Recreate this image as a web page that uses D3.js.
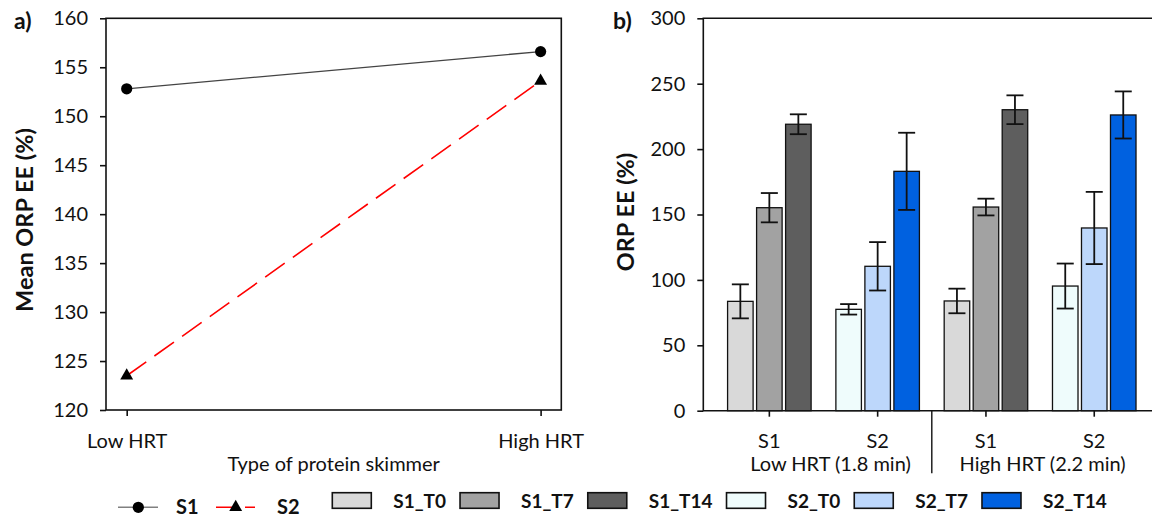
<!DOCTYPE html>
<html>
<head>
  <meta charset="UTF-8">
  <style>
    body { margin: 0; background: #fff; }
    svg text { font-family: Lato, "Open Sans", sans-serif; fill: #111; }
  </style>
</head>
<body>
<div id="chart"></div>
<script src="https://d3js.org/d3.v7.min.js"></script>
<script>

// ---- panel a data
const hrtTypes = ["Low HRT", "High HRT"];
const meanS1 = [152.8, 156.6];
const meanS2 = [123.5, 153.6];
const yTicksA = [120, 125, 130, 135, 140, 145, 150, 155, 160];

// ---- panel b data
const groupIds = ["low-S1", "low-S2", "high-S1", "high-S2"];
const groupLabels = ["S1", "S2", "S1", "S2"];
const hrtLabels = ["Low HRT (1.8 min)", "High HRT (2.2 min)"];
const seriesNames = ["S1_T0", "S1_T7", "S1_T14", "S2_T0", "S2_T7", "S2_T14"];
const seriesColors = ["#d9d9d9", "#a2a2a2", "#5e5e5e", "#effcfc", "#bdd7fb", "#0061e0"];
const lowS1 = [83.6, 155.2, 219.0], lowS1Err = [13.0, 11.2, 7.6];
const lowS2 = [77.5, 110.4, 183.0], lowS2Err = [4.0, 18.5, 29.5];
const highS1 = [83.9, 155.7, 230.1], highS1Err = [9.4, 6.4, 11.0];
const highS2 = [95.3, 139.7, 226.1], highS2Err = [17.2, 27.6, 18.0];
const yTicksB = [0, 50, 100, 150, 200, 250, 300];

const width = 1152, height = 517;
const fs = 20;

const svg = d3.select("#chart")
  .append("svg")
  .attr("width", width)
  .attr("height", height);

//================ panel a =================
const a = { left: 106, right: 561.3, top: 18.3, bottom: 410 };

const xA = d3.scalePoint().domain(hrtTypes).range([a.left, a.right]).padding(0.05);
const yA = d3.scaleLinear().domain([120, 160]).range([a.bottom, a.top]);

const gA = svg.append("g");

gA.append("rect")
  .attr("x", a.left).attr("y", a.top)
  .attr("width", a.right - a.left).attr("height", a.bottom - a.top)
  .attr("fill", "none").attr("stroke", "#111").attr("stroke-width", 1.6);

const axA = gA.append("g")
  .attr("transform", `translate(${a.left},0)`)
  .call(d3.axisLeft(yA).tickValues(yTicksA).tickSize(6).tickPadding(12));
const axAb = gA.append("g")
  .attr("transform", `translate(0,${a.bottom})`)
  .call(d3.axisBottom(xA).tickSize(6).tickPadding(18));
[axA, axAb].forEach(ax => {
  ax.select(".domain").remove();
  ax.selectAll("line").attr("stroke", "#111").attr("stroke-width", 1.6);
  ax.selectAll("text").attr("font-size", fs).attr("fill", "#111")
    .style("font-family", "Lato, 'Open Sans', sans-serif");
});

const lineA = d3.line().x((d, i) => xA(hrtTypes[i])).y(d => yA(d));

gA.append("path").datum(meanS1)
  .attr("d", lineA).attr("fill", "none")
  .attr("stroke", "#444").attr("stroke-width", 1.3);
gA.append("path").datum(meanS2)
  .attr("d", lineA).attr("fill", "none")
  .attr("stroke", "#ff0000").attr("stroke-width", 1.6)
  .attr("stroke-dasharray", "24,10");

gA.selectAll(".s1pt").data(meanS1).enter()
  .append("circle")
  .attr("cx", (d, i) => xA(hrtTypes[i])).attr("cy", d => yA(d))
  .attr("r", 5.6).attr("fill", "#000");
gA.selectAll(".s2pt").data(meanS2).enter()
  .append("path")
  .attr("d", d3.symbol().type(d3.symbolTriangle).size(72))
  .attr("transform", (d, i) => `translate(${xA(hrtTypes[i])},${yA(d)})`)
  .attr("fill", "#000");

gA.append("text").attr("x", 14).attr("y", 29)
  .attr("font-size", 23).attr("font-weight", "bold").text("a)");

gA.append("text")
  .attr("transform", "translate(33,220) rotate(-90)")
  .attr("text-anchor", "middle").attr("font-size", 23.5).attr("font-weight", "bold")
  .text("Mean ORP EE (%)");

gA.append("text")
  .attr("x", (a.left + a.right) / 2).attr("y", 471)
  .attr("text-anchor", "middle").attr("font-size", fs)
  .text("Type of protein skimmer");

// legend a
const legA = gA.append("g").attr("transform", "translate(0,507.3)");
legA.append("line").attr("x1", 118).attr("x2", 158)
  .attr("stroke", "#808080").attr("stroke-width", 1.6);
legA.append("circle").attr("cx", 138.3).attr("r", 5.6).attr("fill", "#000");
legA.append("text").attr("x", 176).attr("y", 6.5)
  .attr("font-size", 20).attr("font-weight", "bold").text("S1");
legA.append("line").attr("x1", 216).attr("x2", 255)
  .attr("stroke", "#ff0000").attr("stroke-width", 1.6)
  .attr("stroke-dasharray", "16,13,10");
legA.append("path")
  .attr("d", d3.symbol().type(d3.symbolTriangle).size(72))
  .attr("transform", "translate(235.7,0)").attr("fill", "#000");
legA.append("text").attr("x", 277).attr("y", 6.5)
  .attr("font-size", 20).attr("font-weight", "bold").text("S2");

//================ panel b =================
const b = { left: 703.3, right: 1152, top: 18.3, bottom: 410.7 };

const x0 = d3.scaleBand().domain(groupIds).range([715.2, 1148.4]);
const x1 = d3.scaleBand().domain([0, 1, 2]).range([0, x0.bandwidth()])
  .paddingInner(0.12).paddingOuter(0.427);
const yB = d3.scaleLinear().domain([0, 300]).range([b.bottom, b.top]);

const gB = svg.append("g");

const axB = gB.append("g")
  .attr("transform", `translate(${b.left},0)`)
  .call(d3.axisLeft(yB).tickValues(yTicksB).tickSize(6).tickPadding(12));
axB.select(".domain").remove();
axB.selectAll("line").attr("stroke", "#111").attr("stroke-width", 1.6);
axB.selectAll("text").attr("font-size", fs).attr("fill", "#111")
  .style("font-family", "Lato, 'Open Sans', sans-serif");

// frame lines: left axis, top, bottom
gB.append("path")
  .attr("d", `M${b.right},${b.top}H${b.left}V${b.bottom}H${b.right}`)
  .attr("fill", "none").attr("stroke", "#111").attr("stroke-width", 1.6);

const barData = [];
const groupVals = [lowS1, lowS2, highS1, highS2];
const groupErrs = [lowS1Err, lowS2Err, highS1Err, highS2Err];
groupIds.forEach((g, gi) => {
  groupVals[gi].forEach((v, k) => {
    const s = groupLabels[gi] === "S1" ? k : k + 3;
    barData.push({ group: g, k: k, series: s, value: v, err: groupErrs[gi][k] });
  });
});

gB.selectAll(".bar").data(barData).enter()
  .append("rect")
  .attr("x", d => x0(d.group) + x1(d.k))
  .attr("y", d => yB(d.value))
  .attr("width", x1.bandwidth())
  .attr("height", d => yB(0) - yB(d.value))
  .attr("fill", d => seriesColors[d.series])
  .attr("stroke", "#111").attr("stroke-width", 1.3);

const cap = 8.5;
const midX = d => x0(d.group) + x1(d.k) + x1.bandwidth() / 2;
const eb = gB.selectAll(".err").data(barData).enter().append("g")
  .attr("stroke", "#111").attr("stroke-width", 1.8);
eb.append("line")
  .attr("x1", midX).attr("x2", midX)
  .attr("y1", d => yB(d.value + d.err)).attr("y2", d => yB(d.value - d.err));
eb.append("line")
  .attr("x1", d => midX(d) - cap).attr("x2", d => midX(d) + cap)
  .attr("y1", d => yB(d.value + d.err)).attr("y2", d => yB(d.value + d.err));
eb.append("line")
  .attr("x1", d => midX(d) - cap).attr("x2", d => midX(d) + cap)
  .attr("y1", d => yB(d.value - d.err)).attr("y2", d => yB(d.value - d.err));

// group ticks and labels
groupIds.forEach((g, gi) => {
  const cx = x0(g) + x0.bandwidth() / 2;
  gB.append("line").attr("x1", cx).attr("x2", cx)
    .attr("y1", b.bottom).attr("y2", b.bottom + 6)
    .attr("stroke", "#111").attr("stroke-width", 1.6);
  gB.append("text").attr("x", cx).attr("y", 448)
    .attr("text-anchor", "middle").attr("font-size", fs).text(groupLabels[gi]);
});
// separator between HRT blocks
gB.append("line")
  .attr("x1", x0(groupIds[2])).attr("x2", x0(groupIds[2]))
  .attr("y1", b.bottom).attr("y2", 473.3)
  .attr("stroke", "#111").attr("stroke-width", 1.4);
const hrtShift = [7, 2.5];
hrtLabels.forEach((t, i) => {
  const cx = x0(groupIds[i * 2]) + x0.bandwidth();
  gB.append("text").attr("x", cx + hrtShift[i]).attr("y", 471)
    .attr("text-anchor", "middle").attr("font-size", fs).text(t);
});

gB.append("text").attr("x", 613).attr("y", 29)
  .attr("font-size", 23).attr("font-weight", "bold").text("b)");
gB.append("text")
  .attr("transform", "translate(634,212) rotate(-90)")
  .attr("text-anchor", "middle").attr("font-size", 23.5).attr("font-weight", "bold")
  .text("ORP EE (%)");

// legend b - boxes flow after label widths
const legB = svg.append("g").attr("transform", "translate(0,492.7)");
let lx = 332.3;
seriesNames.forEach((name, i) => {
  legB.append("rect").attr("x", lx).attr("y", 0)
    .attr("width", 39).attr("height", 15.6)
    .attr("fill", seriesColors[i]).attr("stroke", "#111").attr("stroke-width", 1.6);
  const t = legB.append("text").attr("x", lx + 61).attr("y", 15.6)
    .attr("font-size", 19).attr("font-weight", "bold").text(name);
  lx = lx + 61 + t.node().getComputedTextLength() + 14;
});

</script>
</body>
</html>
